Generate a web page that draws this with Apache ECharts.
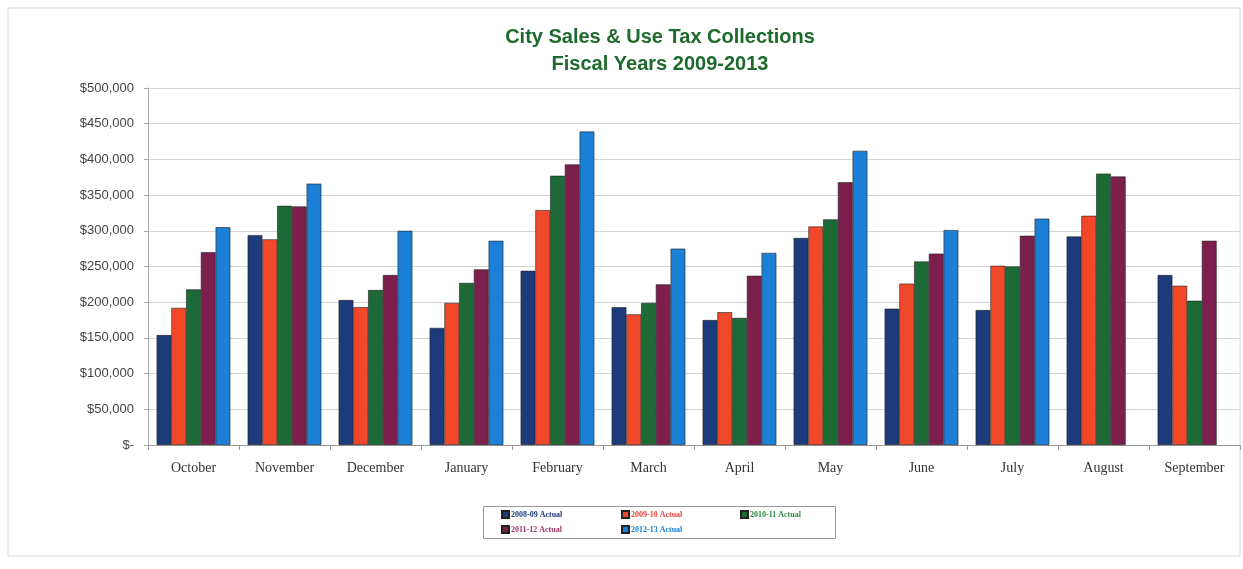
<!DOCTYPE html>
<html><head><meta charset="utf-8">
<script src="https://cdn.jsdelivr.net/npm/echarts@6/dist/echarts.min.js"></script>
<style>html,body{margin:0;padding:0;background:#fff}#c{width:1243px;height:569px}</style>
</head><body><div id="c"></div>
<script>
const months = ['October','November','December','January','February','March','April','May','June','July','August','September'];
const seriesNames = ['2008-09 Actual','2009-10 Actual','2010-11 Actual','2011-12 Actual','2012-13 Actual'];
const fy0809 = [154000,294000,203000,164000,244000,193000,175000,290000,191000,189000,292000,238000];
const fy0910 = [192000,288000,193000,199000,329000,183000,186000,306000,226000,251000,321000,223000];
const fy1011 = [218000,335000,217000,227000,377000,199000,178000,316000,257000,250000,380000,202000];
const fy1112 = [270000,334000,238000,246000,393000,225000,237000,368000,268000,293000,376000,286000];
const fy1213 = [305000,366000,300000,286000,439000,275000,269000,412000,301000,317000,null,null];

const colors = ['#1d3b7a','#f2482a','#1d6a36','#7c1f4c','#1b80d6'];
const textColors = ['#1d3b7a','#e8463a','#2a8a3e','#a0336a','#1b80d6'];
const allData = [fy0809,fy0910,fy1011,fy1112,fy1213];
const legendPos = [[501,510],[621,510],[740,510],[501,525],[621,525]];

const chart = echarts.init(document.getElementById('c'));
chart.setOption({
  animation:false,
  backgroundColor:'#fff',
  title:{
    text:'City Sales & Use Tax Collections\nFiscal Years 2009-2013',
    left:655, top:19, textAlign:'center',
    textStyle:{color:'#1c6a2c',fontFamily:'Liberation Sans',fontWeight:'bold',fontSize:20,lineHeight:27}
  },
  graphic:[
    {type:'rect',shape:{x:8,y:8,width:1232,height:548},style:{fill:'none',stroke:'#d8d8d8',lineWidth:1},silent:true},
    {type:'rect',shape:{x:483.5,y:506.5,width:352,height:32},style:{fill:'none',stroke:'#9a9a9a',lineWidth:1},silent:true}
  ],
  legend: seriesNames.map((n,i)=>({
    left:legendPos[i][0], top:legendPos[i][1], padding:0, itemWidth:7, itemHeight:7, itemGap:3, icon:'rect',
    data:[n],
    textStyle:{color:textColors[i],fontFamily:'Liberation Serif',fontWeight:'bold',fontSize:8,padding:[0,0,0,-3]}
  })),
  grid:{left:148,right:3,top:88,bottom:124},
  xAxis:{
    type:'category', data:months,
    axisLine:{lineStyle:{color:'#9a9a9a'}},
    axisTick:{show:true,lineStyle:{color:'#9a9a9a'}},
    axisLabel:{color:'#333',fontFamily:'Liberation Serif',fontSize:14,margin:16}
  },
  yAxis:{
    type:'value', min:0, max:500000, interval:50000,
    axisLine:{show:true,lineStyle:{color:'#aaa'}},
    axisTick:{show:true,length:4,lineStyle:{color:'#aaa'}},
    splitLine:{lineStyle:{color:'#d4d4d4'}},
    axisLabel:{color:'#444',fontFamily:'Liberation Sans',fontSize:13,margin:14,
      formatter:v=> v===0 ? '$-' : '$'+v.toLocaleString('en-US')}
  },
  series: allData.map((d,i)=>({
    name:seriesNames[i], type:'bar', data:d,
    barGap:'0%', barCategoryGap:'19%',
    itemStyle:{color:colors[i],borderColor:'#222',borderWidth:0.6}
  }))
});
</script></body></html>
